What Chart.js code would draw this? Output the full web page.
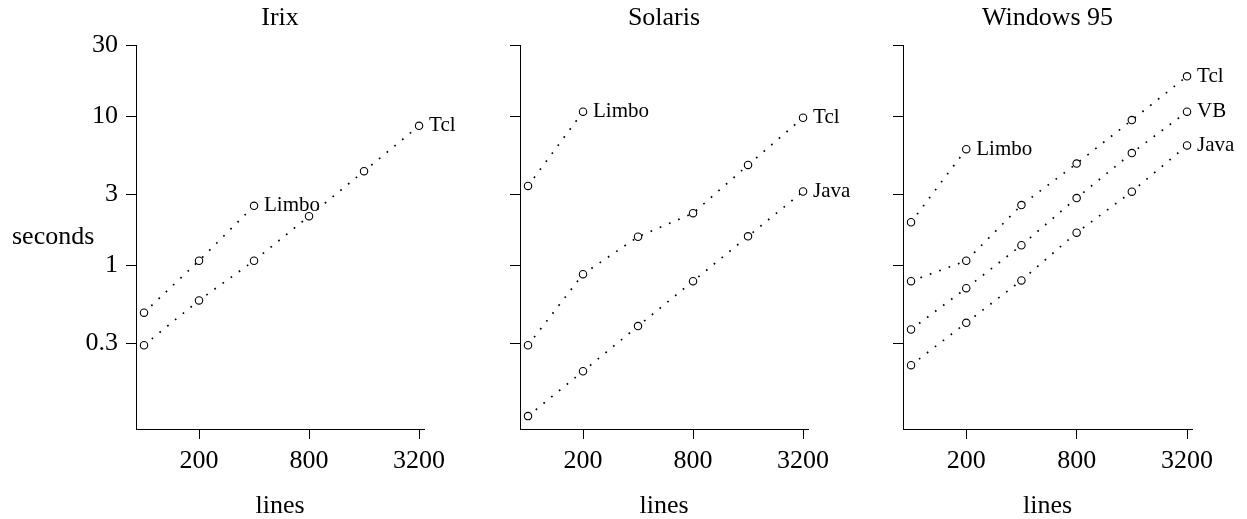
<!DOCTYPE html>
<html><head><meta charset="utf-8">
<script src="https://cdn.jsdelivr.net/npm/chart.js@4.4.1/dist/chart.umd.min.js"></script>
<style>
html,body{margin:0;padding:0;background:#fff;width:1247px;height:519px;overflow:hidden}
canvas{position:absolute;top:0}
</style></head><body>
<canvas id="c1" width="470" height="519" style="left:0px"></canvas>
<canvas id="c2" width="390" height="519" style="left:470px"></canvas>
<canvas id="c3" width="387" height="519" style="left:860px"></canvas>
<script>
// ---- data ----
const panelTitles = ['Irix', 'Solaris', 'Windows 95'];
const lineCounts = [100, 200, 400, 800, 1600, 3200];
const xTickValues = [200, 800, 3200];
const xTickLabels = ['200', '800', '3200'];
const yTickValues = [0.3, 1, 3, 10, 30];
const yTickLabels = ['0.3', '1', '3', '10', '30'];
const yAxisLabel = 'seconds';
const xAxisLabel = 'lines';

const irixLimbo = [0.48, 1.07, 2.5];
const irixTcl = [0.29, 0.58, 1.07, 2.13, 4.27, 8.6];

const solarisLimbo = [3.4, 10.7];
const solarisTcl = [0.29, 0.87, 1.55, 2.23, 4.7, 9.75];
const solarisJava = [0.097, 0.194, 0.39, 0.78, 1.56, 3.12];

const winLimbo = [1.94, 6.0];
const winTcl = [0.78, 1.07, 2.53, 4.8, 9.4, 18.5];
const winVB = [0.37, 0.7, 1.36, 2.82, 5.65, 10.7];
const winJava = [0.213, 0.41, 0.79, 1.65, 3.11, 6.36];

const panelSeries = [
  [['Limbo', irixLimbo], ['Tcl', irixTcl]],
  [['Limbo', solarisLimbo], ['Tcl', solarisTcl], ['Java', solarisJava]],
  [['Limbo', winLimbo], ['Tcl', winTcl], ['VB', winVB], ['Java', winJava]]
];

// ---- rendering ----
const FONT = 'Liberation Serif';
Chart.defaults.font.family = FONT;
Chart.defaults.font.size = 26;
Chart.defaults.color = '#000';

const endLabels = {
  id: 'endLabels',
  afterDatasetsDraw(chart) {
    const ctx = chart.ctx;
    ctx.save();
    ctx.font = '21px "' + FONT + '"';
    ctx.fillStyle = '#000';
    ctx.textBaseline = 'middle';
    ctx.textAlign = 'left';
    chart.data.datasets.forEach((ds, i) => {
      const meta = chart.getDatasetMeta(i);
      const pt = meta.data[meta.data.length - 1];
      ctx.fillText(ds.label, pt.x + 10, pt.y);
    });
    ctx.restore();
  }
};

const secondsLabel = {
  id: 'secondsLabel',
  afterDraw(chart) {
    const ctx = chart.ctx;
    ctx.save();
    ctx.font = '26px "' + FONT + '"';
    ctx.fillStyle = '#000';
    ctx.textBaseline = 'alphabetic';
    ctx.textAlign = 'left';
    ctx.fillText(yAxisLabel, 12, 244);
    ctx.restore();
  }
};

const yWidths = [136, 50, 43];
const rightPads = [46, 52, 55];

['c1', 'c2', 'c3'].forEach((id, p) => {
  const datasets = panelSeries[p].map(([name, vals]) => ({
    label: name,
    data: vals.map((v, i) => ({ x: lineCounts[i], y: v })),
    borderColor: '#000',
    borderWidth: 1.7,
    borderDash: [1.7, 8.3],
    tension: 0,
    fill: false,
    clip: false,
    pointStyle: 'circle',
    pointRadius: 3.7,
    pointBorderWidth: 1.1,
    pointBorderColor: '#000',
    pointBackgroundColor: '#fff'
  }));
  new Chart(document.getElementById(id), {
    type: 'line',
    data: { datasets },
    options: {
      responsive: false,
      animation: false,
      layout: { padding: { left: 0, right: rightPads[p], top: 0, bottom: 0 } },
      plugins: {
        legend: { display: false },
        tooltip: { enabled: false },
        title: {
          display: true, text: panelTitles[p], fullSize: false,
          font: { size: 26, family: FONT, weight: 'normal' }, color: '#000',
          padding: { top: 3, bottom: 10.8 }
        }
      },
      scales: {
        x: {
          type: 'logarithmic', position: 'bottom', min: 90.4, max: 3406, offset: false,
          afterBuildTicks: s => { s.ticks = xTickValues.map(v => ({ value: v })); },
          afterFit: s => { s.height = 90; },
          ticks: {
            autoSkip: false, maxRotation: 0, padding: 7, font: { size: 26 }, color: '#000',
            callback: v => { const k = xTickValues.indexOf(v); return k >= 0 ? xTickLabels[k] : ''; }
          },
          grid: { drawOnChartArea: false, drawTicks: true, tickLength: 10, color: '#000', lineWidth: 1 },
          border: { display: true, color: '#000', width: 1 },
          title: { display: true, text: xAxisLabel, font: { size: 26, lineHeight: 1 }, color: '#000', padding: { top: 0, bottom: 0 } }
        },
        y: {
          type: 'logarithmic', position: 'left', min: 0.0795, max: 30, offset: false,
          afterBuildTicks: s => { s.ticks = yTickValues.map(v => ({ value: v })); },
          afterFit: s => { s.width = yWidths[p]; },
          ticks: {
            autoSkip: false, padding: 8, font: { size: 26 }, color: '#000',
            callback: v => { if (p > 0) return ''; const k = yTickValues.indexOf(v); return k >= 0 ? yTickLabels[k] : ''; }
          },
          grid: { drawOnChartArea: false, drawTicks: true, tickLength: 10, color: '#000', lineWidth: 1 },
          border: { display: true, color: '#000', width: 1 }
        }
      }
    },
    plugins: p === 0 ? [endLabels, secondsLabel] : [endLabels]
  });
});
</script>
</body></html>
